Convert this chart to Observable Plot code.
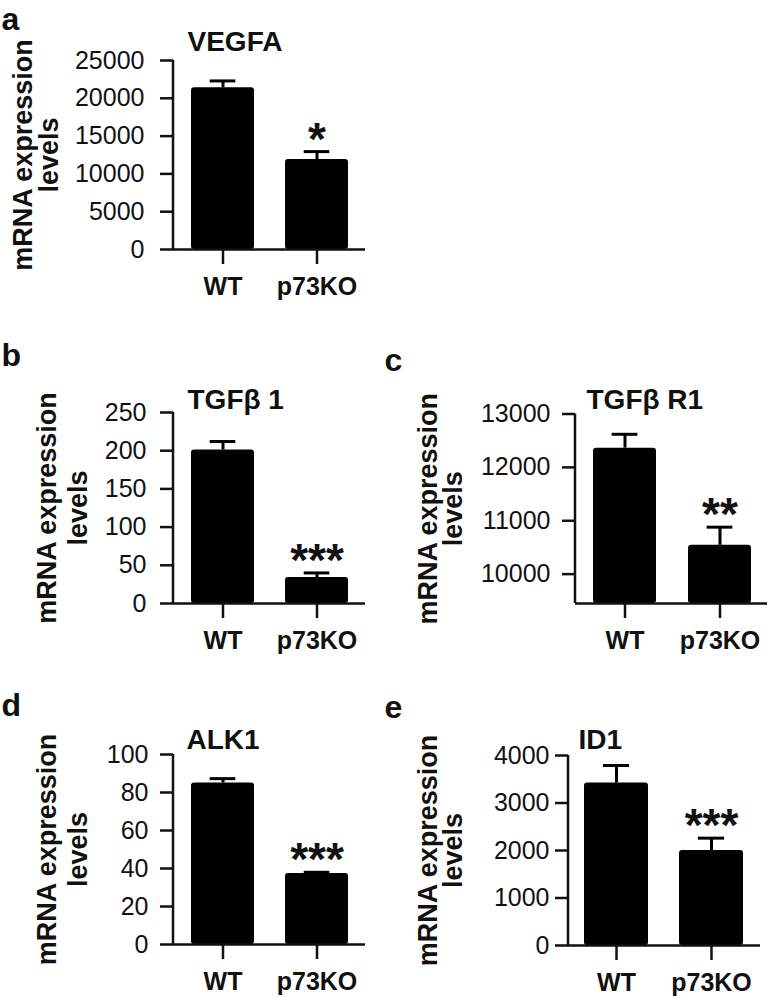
<!DOCTYPE html>
<html>
<head>
<meta charset="utf-8">
<script src="https://cdn.jsdelivr.net/npm/d3@7"></script>
<script src="https://cdn.jsdelivr.net/npm/@observablehq/plot@0.6"></script>
<style>
  body { margin: 0; background: #fff; }
  #fig { position: relative; width: 768px; height: 998px; background: #fff; overflow: hidden; }
  .panel { position: absolute; }
</style>
</head>
<body>
<div id="fig"></div>
<script>
// ---------- data ----------
const groups = ["WT", "p73KO"];
const yLabelLines = ["mRNA expression", "levels"];
const panelLetters = ["a", "b", "c", "d", "e"];
const geneTitles = ["VEGFA", "TGFβ 1", "TGFβ R1", "ALK1", "ID1"];

const vegfaMean = [21400, 11900];
const vegfaSem = [900, 1050];
const vegfaStars = ["", "*"];
const vegfaTicks = [0, 5000, 10000, 15000, 20000, 25000];
const vegfaDomain = [0, 25000];

const tgfb1Mean = [201, 34];
const tgfb1Sem = [11, 6];
const tgfb1Stars = ["", "***"];
const tgfb1Ticks = [0, 50, 100, 150, 200, 250];
const tgfb1Domain = [0, 250];

const tgfbr1Mean = [12360, 10540];
const tgfbr1Sem = [260, 340];
const tgfbr1Stars = ["", "**"];
const tgfbr1Ticks = [10000, 11000, 12000, 13000];
const tgfbr1Domain = [9450, 13000];

const alk1Mean = [85, 37.4];
const alk1Sem = [2.3, 0.6];
const alk1Stars = ["", "***"];
const alk1Ticks = [0, 20, 40, 60, 80, 100];
const alk1Domain = [0, 100];

const id1Mean = [3420, 2000];
const id1Sem = [370, 260];
const id1Stars = ["", "***"];
const id1Ticks = [0, 1000, 2000, 3000, 4000];
const id1Domain = [0, 4000];

// ---------- layout (styles / positions only) ----------
const FONT = "'Liberation Sans', Arial, Helvetica, sans-serif";
const INK = "#111";
const layouts = [
  {left: 0,   top: 0,   w: 384, h: 320, ml: 173, mr: 19, mt: 60,   mb: 71, range: [190, 348], pad: 0.33, tickPad: 16, lab: [31, 57.5],   titleX: 187, titleY: 50, letterX: 1, letterY: 29},
  {left: 0,   top: 320, w: 384, h: 340, ml: 173, mr: 19, mt: 92,   mb: 57, range: [190, 348], pad: 0.33, tickPad: 14, lab: [55, 86.5],   titleX: 187, titleY: 88, letterX: 1, letterY: 45},
  {left: 384, top: 320, w: 384, h: 340, ml: 191, mr: 1,  mt: 93.5, mb: 57, range: [208, 367], pad: 0.34, tickPad: 12, lab: [52, 77],     titleX: 202, titleY: 88, letterX: 0, letterY: 50},
  {left: 0,   top: 660, w: 384, h: 338, ml: 173, mr: 19, mt: 94,   mb: 54, range: [190, 348], pad: 0.33, tickPad: 12, lab: [55, 86.5],   titleX: 186, titleY: 88, letterX: 1, letterY: 55},
  {left: 384, top: 660, w: 384, h: 338, ml: 184, mr: 8,  mt: 95,   mb: 53, range: [200, 359], pad: 0.33, tickPad: 6,  lab: [52, 77],     titleX: 194, titleY: 88, letterX: 0, letterY: 57}
];

const panels = [
  {mean: vegfaMean,  sem: vegfaSem,  stars: vegfaStars,  ticks: vegfaTicks,  domain: vegfaDomain},
  {mean: tgfb1Mean,  sem: tgfb1Sem,  stars: tgfb1Stars,  ticks: tgfb1Ticks,  domain: tgfb1Domain},
  {mean: tgfbr1Mean, sem: tgfbr1Sem, stars: tgfbr1Stars, ticks: tgfbr1Ticks, domain: tgfbr1Domain},
  {mean: alk1Mean,   sem: alk1Sem,   stars: alk1Stars,   ticks: alk1Ticks,   domain: alk1Domain},
  {mean: id1Mean,    sem: id1Sem,    stars: id1Stars,    ticks: id1Ticks,    domain: id1Domain}
];

const fig = document.getElementById("fig");

panels.forEach((cfg, p) => {
  const L = layouts[p];
  const data = groups.map((g, i) => ({
    group: g,
    mean: cfg.mean[i],
    top: cfg.mean[i] + cfg.sem[i],
    star: cfg.stars[i]
  }));
  const bw = (L.range[1] - L.range[0]) / (2 - L.pad) * (1 - L.pad);
  const capInset = (bw - 26) / 2;

  const yAxisLine = (index, scales, values, dims) => {
    const el = document.createElementNS("http://www.w3.org/2000/svg", "line");
    el.setAttribute("x1", dims.marginLeft);
    el.setAttribute("x2", dims.marginLeft);
    el.setAttribute("y1", scales.y(cfg.domain[1]));
    el.setAttribute("y2", scales.y(cfg.domain[0]));
    el.setAttribute("stroke", INK);
    el.setAttribute("stroke-width", 2.5);
    return el;
  };

  const chart = Plot.plot({
    width: L.w,
    height: L.h,
    marginLeft: L.ml,
    marginRight: L.mr,
    marginTop: L.mt,
    marginBottom: L.mb,
    style: {fontFamily: FONT, fontSize: "25px", color: INK, background: "#fff", overflow: "visible"},
    x: {type: "band", domain: groups, range: L.range, paddingInner: L.pad, paddingOuter: 0, align: 0.5},
    y: {domain: cfg.domain},
    marks: [
      Plot.barY(data, {x: "group", y1: cfg.domain[0], y2: "mean", fill: "#000", rx: 3}),
      Plot.ruleX(data, {x: "group", y1: "mean", y2: "top", stroke: "#000", strokeWidth: 3}),
      Plot.tickY(data, {x: "group", y: "top", stroke: "#000", strokeWidth: 3, insetLeft: capInset, insetRight: capInset}),
      Plot.text(data, {x: "group", y: "top", text: "star", fontSize: 46, fontWeight: "bold", lineAnchor: "bottom", dy: 3, fill: INK}),
      Plot.ruleY([cfg.domain[0]], {stroke: INK, strokeWidth: 2.5}),
      yAxisLine,
      Plot.axisY({ticks: cfg.ticks, tickSize: 13, tickPadding: L.tickPad, tickFormat: d => String(d), label: null, strokeWidth: 2.5, fontSize: 25}),
      Plot.axisX({tickSize: 15, tickPadding: 13, label: null, fontWeight: "bold", strokeWidth: 2.5, fontSize: 25}),
      Plot.text([yLabelLines[0]], {text: d => d, frameAnchor: "left", rotate: -90, textAnchor: "middle", lineAnchor: "bottom", dx: L.lab[0] - L.ml, fontSize: 27, fontWeight: "bold", fill: INK}),
      Plot.text([yLabelLines[1]], {text: d => d, frameAnchor: "left", rotate: -90, textAnchor: "middle", lineAnchor: "bottom", dx: L.lab[1] - L.ml, fontSize: 27, fontWeight: "bold", fill: INK}),
      Plot.text([geneTitles[p]], {text: d => d, frameAnchor: "top-left", textAnchor: "start", lineAnchor: "bottom", dx: L.titleX - L.ml, dy: L.titleY - L.mt, fontSize: 28, fontWeight: "bold", fill: INK}),
      Plot.text([panelLetters[p]], {text: d => d, frameAnchor: "top-left", textAnchor: "start", lineAnchor: "bottom", dx: L.letterX - L.ml, dy: L.letterY - L.mt, fontSize: 32, fontWeight: "bold", fill: INK})
    ]
  });

  const div = document.createElement("div");
  div.className = "panel";
  div.style.left = L.left + "px";
  div.style.top = L.top + "px";
  div.style.width = L.w + "px";
  div.style.height = L.h + "px";
  div.appendChild(chart);
  fig.appendChild(div);
});
</script>
</body>
</html>
